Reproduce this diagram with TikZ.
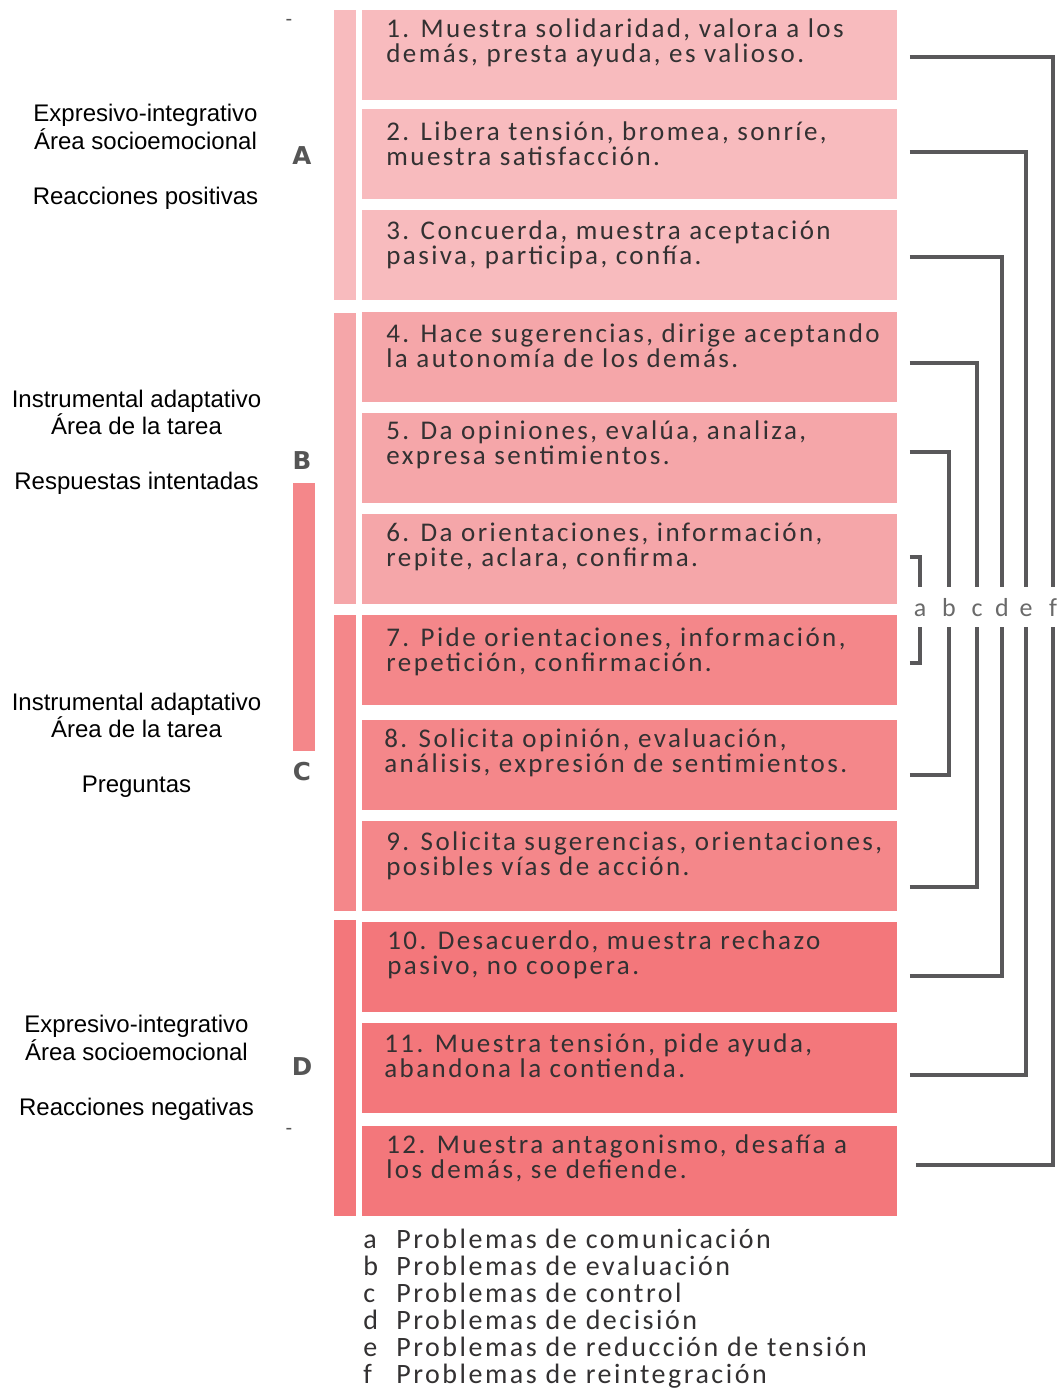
\documentclass[tikz,border=0pt]{standalone}
\usepackage{fontspec}
\setmainfont{Liberation Sans}
\newfontfamily\gillfont[LetterSpace=9]{Carlito}
\newfontfamily\heavyfont{DejaVu Sans}
\usetikzlibrary{calc}
\newcommand\itemfont{\gillfont\fontsize{13.5}{12.5}\selectfont\lineskiplimit=-20pt\relax}

\definecolor{rowA}{HTML}{F8BBBE}
\definecolor{rowB}{HTML}{F5A6A9}
\definecolor{rowC}{HTML}{F4878A}
\definecolor{rowD}{HTML}{F3777B}
\definecolor{ink}{HTML}{333132}
\definecolor{wire}{HTML}{59585A}
\definecolor{tag}{HTML}{555555}
\definecolor{keyink}{HTML}{6A6A6A}

\begin{document}
\begin{tikzpicture}[x=0.5pt,y=-0.5pt,
  box/.style={anchor=north west, inner sep=0, minimum width=267.5pt, minimum height=45pt},
  bar/.style={anchor=north west, inner sep=0, minimum width=11pt},
  item/.style={anchor=north west, inner sep=0, align=left, text=ink, font=\itemfont},
  side/.style={align=center, inner sep=0, text=black,
    font=\fontsize{12}{13.75}\selectfont},
  grp/.style={inner sep=0, text=tag, font=\heavyfont\bfseries\fontsize{12.3}{12}\selectfont},
  tick/.style={inner sep=0, text=tag, font=\fontsize{10}{10}\selectfont},
  wirelabel/.style={inner sep=0, minimum height=19.5pt, text height=9pt, text depth=0pt,
    text=keyink, font=\gillfont\fontsize{13}{13}\selectfont},
  wire/.style={draw=wire, line width=1.6pt, line join=miter},
  keyletter/.style={anchor=base west, inner sep=0, text=ink,
    font=\gillfont\fontsize{14}{13.5}\selectfont},
  keytext/.style={anchor=base west, inner sep=0, text=ink,
    font=\gillfont\fontsize{14}{13.5}\selectfont},
]
\useasboundingbox[fill=white] (0,0) rectangle (1062,1389);

% group bars on the left of the boxes
\node[bar, fill=rowA, minimum height=145pt]   (barA)  at (334,10)  {};
\node[bar, fill=rowB, minimum height=145.5pt] (barB)  at (334,313) {};
\node[bar, fill=rowC, minimum height=148pt]   (barC)  at (334,615) {};
\node[bar, fill=rowD, minimum height=148pt]   (barD)  at (334,920) {};
\node[bar, fill=rowC, minimum height=134pt]   (barBC) at (293,483) {};

% category boxes
\foreach \n/\top/\col in {1/10/rowA,2/109/rowA,3/210/rowA,
                          4/312/rowB,5/413/rowB,6/514/rowB,
                          7/615/rowC,8/720/rowC,9/821/rowC,
                          10/922/rowD,11/1023/rowD,12/1126/rowD}
  \node[box, fill=\col] (b\n) at (362,\top) {};

% category texts
\node[item] (t1)  at ($(b1.north west)+(24,8)$)   {\strut 1. Muestra solidaridad, valora a los\\demás, presta ayuda, es valioso.};
\node[item] (t2)  at ($(b2.north west)+(24,12)$)  {\strut 2. Libera tensión, bromea, sonríe,\\muestra satisfacción.};
\node[item] (t3)  at ($(b3.north west)+(24,10)$)  {\strut 3. Concuerda, muestra aceptación\\pasiva, participa, confía.};
\node[item] (t4)  at ($(b4.north west)+(24,11)$)  {\strut 4. Hace sugerencias, dirige aceptando\\la autonomía de los demás.};
\node[item] (t5)  at ($(b5.north west)+(24,7)$)   {\strut 5. Da opiniones, evalúa, analiza,\\expresa sentimientos.};
\node[item] (t6)  at ($(b6.north west)+(24,9)$)   {\strut 6. Da orientaciones, información,\\repite, aclara, confirma.};
\node[item] (t7)  at ($(b7.north west)+(24,12)$)  {\strut 7. Pide orientaciones, información,\\repetición, confirmación.};
\node[item] (t8)  at ($(b8.north west)+(22,8)$)   {\strut 8. Solicita opinión, evaluación,\\análisis, expresión de sentimientos.};
\node[item] (t9)  at ($(b9.north west)+(24,10)$)  {\strut 9. Solicita sugerencias, orientaciones,\\posibles vías de acción.};
\node[item] (t10) at ($(b10.north west)+(25,8)$)  {\strut 10. Desacuerdo, muestra rechazo\\pasivo, no coopera.};
\node[item] (t11) at ($(b11.north west)+(22,10)$) {\strut 11. Muestra tensión, pide ayuda,\\abandona la contienda.};
\node[item] (t12) at ($(b12.north west)+(24,8)$)  {\strut 12. Muestra antagonismo, desafía a\\los demás, se defiende.};

% group letters and side captions
\node[grp] (LA) at (302,156)  {A};
\node[grp] (LB) at (302,461)  {B};
\node[grp] (LC) at (302,772)  {C};
\node[grp] (LD) at (302,1067) {D};
\node[tick] (tk1) at (289,22)   {-};
\node[tick] (tk2) at (289,1131) {-};

\node[side] (gA) at (145.5,157)  {Expresivo-integrativo\\Área socioemocional\\[13.75pt]Reacciones positivas};
\node[side] (gB) at (136.5,442.5) {Instrumental adaptativo\\Área de la tarea\\[13.75pt]Respuestas intentadas};
\node[side] (gC) at (136.5,745.5) {Instrumental adaptativo\\Área de la tarea\\[13.75pt]Preguntas};
\node[side] (gD) at (136.5,1068) {Expresivo-integrativo\\Área socioemocional\\[13.75pt]Reacciones negativas};

% connector end points beside the boxes
\foreach \n/\dy in {1/47,2/43,3/47,4/51,5/39,6/43,7/48,8/55,9/66,10/54,11/52}
  \coordinate (e\n) at ($(b\n.north east)+(12,\dy)$);
\coordinate (e12) at ($(b12.north east)+(18,39)$);

% problem letters
\foreach \l/\x in {a/920,b/949,c/977,d/1002,e/1026,f/1053}
  \node[wirelabel] (k\l) at (\x,607) {\l};

% paired brackets
\draw[wire] (e6)  -| (ka.north);  \draw[wire] (e7)  -| (ka.south);
\draw[wire] (e5)  -| (kb.north);  \draw[wire] (e8)  -| (kb.south);
\draw[wire] (e4)  -| (kc.north);  \draw[wire] (e9)  -| (kc.south);
\draw[wire] (e3)  -| (kd.north);  \draw[wire] (e10) -| (kd.south);
\draw[wire] (e2)  -| (ke.north);  \draw[wire] (e11) -| (ke.south);
\draw[wire] (e1)  -| (kf.north);  \draw[wire] (e12) -| (kf.south);

% key
\foreach \l/\txt [count=\i from 0] in {a/Problemas de comunicación,
    b/Problemas de evaluación, c/Problemas de control,
    d/Problemas de decisión, e/Problemas de reducción de tensión,
    f/Problemas de reintegración}
{
  \node[keyletter] (kl\l) at (363,1248+27*\i) {\l};
  \node[keytext]   (kt\l) at (396,1248+27*\i) {\txt};
}
\end{tikzpicture}
\end{document}
